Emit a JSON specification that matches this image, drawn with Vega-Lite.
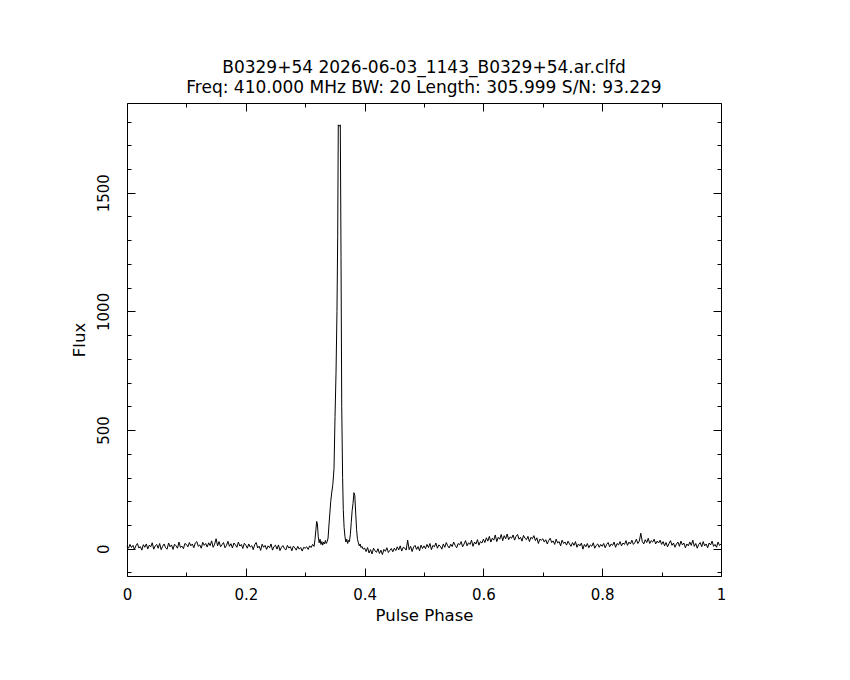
{
  "$schema": "https://vega.github.io/schema/vega-lite/v6.json",
  "width": 594,
  "height": 473,
  "autosize": {"type": "none"},
  "padding": {"left": 127, "top": 103, "right": 129, "bottom": 104},
  "background": "white",
  "title": {
    "text": ["B0329+54 2026-06-03_1143_B0329+54.ar.clfd", "Freq: 410.000 MHz BW: 20 Length: 305.999 S/N: 93.229"],
    "font": "DejaVu Sans",
    "fontSize": 17,
    "fontWeight": "normal",
    "color": "black",
    "lineHeight": 20,
    "anchor": "middle",
    "offset": 6
  },
  "data": {"values": [
{"p":0,"f":10},{"p":0.0025,"f":2},{"p":0.005,"f":18},{"p":0.0075,"f":5},{"p":0.01,"f":14},{"p":0.0125,"f":-3},{"p":0.015,"f":12},{"p":0.0175,"f":22},{"p":0.02,"f":3},{"p":0.0225,"f":9},{"p":0.025,"f":-6},{"p":0.0275,"f":17},{"p":0.03,"f":6},{"p":0.0325,"f":20},{"p":0.035,"f":-1},{"p":0.0375,"f":15},{"p":0.04,"f":8},{"p":0.0425,"f":25},{"p":0.045,"f":-2},{"p":0.0475,"f":12},{"p":0.05,"f":18},{"p":0.0525,"f":2},{"p":0.055,"f":22},{"p":0.0575,"f":-4},{"p":0.06,"f":10},{"p":0.0625,"f":20},{"p":0.065,"f":4},{"p":0.0675,"f":-2},{"p":0.07,"f":24},{"p":0.0725,"f":8},{"p":0.075,"f":16},{"p":0.0775,"f":-3},{"p":0.08,"f":19},{"p":0.0825,"f":12},{"p":0.085,"f":2},{"p":0.0875,"f":28},{"p":0.09,"f":5},{"p":0.0925,"f":11},{"p":0.095,"f":0},{"p":0.0975,"f":22},
{"p":0.1,"f":18},{"p":0.1025,"f":8},{"p":0.105,"f":26},{"p":0.1075,"f":12},{"p":0.11,"f":20},{"p":0.1125,"f":4},{"p":0.115,"f":24},{"p":0.1175,"f":30},{"p":0.12,"f":10},{"p":0.1225,"f":16},{"p":0.125,"f":2},{"p":0.1275,"f":27},{"p":0.13,"f":14},{"p":0.1325,"f":22},{"p":0.135,"f":7},{"p":0.1375,"f":25},{"p":0.14,"f":13},{"p":0.1425,"f":33},{"p":0.145,"f":6},{"p":0.1475,"f":19},{"p":0.15,"f":42},{"p":0.1525,"f":12},{"p":0.155,"f":30},{"p":0.1575,"f":8},{"p":0.16,"f":17},{"p":0.1625,"f":26},{"p":0.165,"f":4},{"p":0.1675,"f":14},{"p":0.17,"f":31},{"p":0.1725,"f":10},{"p":0.175,"f":21},{"p":0.1775,"f":3},{"p":0.18,"f":24},{"p":0.1825,"f":16},{"p":0.185,"f":6},{"p":0.1875,"f":28},{"p":0.19,"f":11},{"p":0.1925,"f":18},{"p":0.195,"f":1},{"p":0.1975,"f":23},
{"p":0.2,"f":15},{"p":0.2025,"f":2},{"p":0.205,"f":20},{"p":0.2075,"f":7},{"p":0.21,"f":13},{"p":0.2125,"f":-4},{"p":0.215,"f":17},{"p":0.2175,"f":26},{"p":0.22,"f":3},{"p":0.2225,"f":11},{"p":0.225,"f":-7},{"p":0.2275,"f":19},{"p":0.23,"f":6},{"p":0.2325,"f":14},{"p":0.235,"f":-3},{"p":0.2375,"f":12},{"p":0.24,"f":4},{"p":0.2425,"f":20},{"p":0.245,"f":-6},{"p":0.2475,"f":9},{"p":0.25,"f":15},{"p":0.2525,"f":-2},{"p":0.255,"f":16},{"p":0.2575,"f":-8},{"p":0.26,"f":6},{"p":0.2625,"f":13},{"p":0.265,"f":0},{"p":0.2675,"f":-5},{"p":0.27,"f":14},{"p":0.2725,"f":3},{"p":0.275,"f":9},{"p":0.2775,"f":-9},{"p":0.28,"f":11},{"p":0.2825,"f":4},{"p":0.285,"f":-6},{"p":0.2875,"f":10},{"p":0.29,"f":-2},{"p":0.2925,"f":5},{"p":0.295,"f":-10},{"p":0.2975,"f":6},
{"p":0.3,"f":2},{"p":0.3025,"f":8},{"p":0.305,"f":-3},{"p":0.3075,"f":12},{"p":0.31,"f":5},{"p":0.3125,"f":18},{"p":0.315,"f":10},{"p":0.3165,"f":40},{"p":0.318,"f":80},{"p":0.3193,"f":115},{"p":0.3205,"f":105},{"p":0.322,"f":50},{"p":0.3235,"f":25},{"p":0.325,"f":40},{"p":0.3265,"f":18},{"p":0.328,"f":30},{"p":0.3295,"f":15},{"p":0.331,"f":28},{"p":0.3325,"f":20},{"p":0.334,"f":35},{"p":0.3355,"f":22},{"p":0.337,"f":30},{"p":0.3385,"f":45},{"p":0.34,"f":100},{"p":0.3415,"f":150},{"p":0.343,"f":200},{"p":0.3446,"f":235},{"p":0.3465,"f":270},{"p":0.3485,"f":337},{"p":0.3502,"f":556},{"p":0.3519,"f":741},{"p":0.3535,"f":1000},{"p":0.3547,"f":1314},{"p":0.3557,"f":1786},{"p":0.3575,"f":1780},{"p":0.3591,"f":1786},{"p":0.3603,"f":1230},{"p":0.3615,"f":600},{"p":0.363,"f":300},{"p":0.3641,"f":165},{"p":0.3655,"f":90},{"p":0.367,"f":50},{"p":0.3685,"f":28},{"p":0.37,"f":40},{"p":0.3715,"f":22},{"p":0.373,"f":35},{"p":0.3745,"f":30},{"p":0.376,"f":60},{"p":0.3775,"f":110},{"p":0.379,"f":160},{"p":0.3805,"f":190},{"p":0.382,"f":236},{"p":0.3835,"f":225},{"p":0.385,"f":150},{"p":0.3865,"f":80},{"p":0.388,"f":40},{"p":0.3895,"f":25},{"p":0.391,"f":12},{"p":0.3925,"f":20},{"p":0.394,"f":5},{"p":0.3955,"f":10},{"p":0.3975,"f":-2},
{"p":0.4,"f":3},{"p":0.4025,"f":-12},{"p":0.405,"f":5},{"p":0.4075,"f":-18},{"p":0.41,"f":-4},{"p":0.4125,"f":-22},{"p":0.415,"f":2},{"p":0.4175,"f":-9},{"p":0.42,"f":-15},{"p":0.4225,"f":0},{"p":0.425,"f":-20},{"p":0.4275,"f":-6},{"p":0.43,"f":-25},{"p":0.4325,"f":-3},{"p":0.435,"f":-11},{"p":0.4375,"f":4},{"p":0.44,"f":-16},{"p":0.4425,"f":-7},{"p":0.445,"f":1},{"p":0.4475,"f":-13},{"p":0.45,"f":2},{"p":0.4525,"f":-8},{"p":0.455,"f":8},{"p":0.4575,"f":-5},{"p":0.46,"f":12},{"p":0.4625,"f":-10},{"p":0.465,"f":6},{"p":0.4675,"f":3},{"p":0.47,"f":-6},{"p":0.4725,"f":36},{"p":0.475,"f":-4},{"p":0.4775,"f":10},{"p":0.48,"f":-12},{"p":0.4825,"f":7},{"p":0.485,"f":14},{"p":0.4875,"f":-3},{"p":0.49,"f":9},{"p":0.4925,"f":-9},{"p":0.495,"f":15},{"p":0.4975,"f":1},
{"p":0.5,"f":12},{"p":0.5025,"f":0},{"p":0.505,"f":18},{"p":0.5075,"f":5},{"p":0.51,"f":22},{"p":0.5125,"f":-4},{"p":0.515,"f":14},{"p":0.5175,"f":8},{"p":0.52,"f":24},{"p":0.5225,"f":2},{"p":0.525,"f":16},{"p":0.5275,"f":10},{"p":0.53,"f":-2},{"p":0.5325,"f":20},{"p":0.535,"f":6},{"p":0.5375,"f":26},{"p":0.54,"f":12},{"p":0.5425,"f":3},{"p":0.545,"f":19},{"p":0.5475,"f":9},{"p":0.55,"f":28},{"p":0.5525,"f":14},{"p":0.555,"f":4},{"p":0.5575,"f":22},{"p":0.56,"f":16},{"p":0.5625,"f":30},{"p":0.565,"f":8},{"p":0.5675,"f":20},{"p":0.57,"f":34},{"p":0.5725,"f":12},{"p":0.575,"f":25},{"p":0.5775,"f":18},{"p":0.58,"f":36},{"p":0.5825,"f":10},{"p":0.585,"f":28},{"p":0.5875,"f":20},{"p":0.59,"f":38},{"p":0.5925,"f":15},{"p":0.595,"f":30},{"p":0.5975,"f":24},
{"p":0.6,"f":40},{"p":0.6025,"f":26},{"p":0.605,"f":46},{"p":0.6075,"f":32},{"p":0.61,"f":52},{"p":0.6125,"f":28},{"p":0.615,"f":44},{"p":0.6175,"f":36},{"p":0.62,"f":58},{"p":0.6225,"f":30},{"p":0.625,"f":48},{"p":0.6275,"f":40},{"p":0.63,"f":60},{"p":0.6325,"f":34},{"p":0.635,"f":55},{"p":0.6375,"f":42},{"p":0.64,"f":62},{"p":0.6425,"f":38},{"p":0.645,"f":50},{"p":0.6475,"f":44},{"p":0.65,"f":58},{"p":0.6525,"f":36},{"p":0.655,"f":52},{"p":0.6575,"f":60},{"p":0.66,"f":40},{"p":0.6625,"f":48},{"p":0.665,"f":32},{"p":0.6675,"f":56},{"p":0.67,"f":44},{"p":0.6725,"f":38},{"p":0.675,"f":52},{"p":0.6775,"f":30},{"p":0.68,"f":48},{"p":0.6825,"f":42},{"p":0.685,"f":55},{"p":0.6875,"f":34},{"p":0.69,"f":46},{"p":0.6925,"f":22},{"p":0.695,"f":40},{"p":0.6975,"f":36},
{"p":0.7,"f":42},{"p":0.7025,"f":28},{"p":0.705,"f":38},{"p":0.7075,"f":20},{"p":0.71,"f":35},{"p":0.7125,"f":44},{"p":0.715,"f":26},{"p":0.7175,"f":33},{"p":0.72,"f":18},{"p":0.7225,"f":40},{"p":0.725,"f":24},{"p":0.7275,"f":30},{"p":0.73,"f":12},{"p":0.7325,"f":36},{"p":0.735,"f":22},{"p":0.7375,"f":28},{"p":0.74,"f":15},{"p":0.7425,"f":32},{"p":0.745,"f":20},{"p":0.7475,"f":10},{"p":0.75,"f":26},{"p":0.7525,"f":14},{"p":0.755,"f":30},{"p":0.7575,"f":6},{"p":0.76,"f":20},{"p":0.7625,"f":12},{"p":0.765,"f":24},{"p":0.7675,"f":-2},{"p":0.77,"f":18},{"p":0.7725,"f":8},{"p":0.775,"f":22},{"p":0.7775,"f":4},{"p":0.78,"f":16},{"p":0.7825,"f":10},{"p":0.785,"f":25},{"p":0.7875,"f":2},{"p":0.79,"f":14},{"p":0.7925,"f":20},{"p":0.795,"f":6},{"p":0.7975,"f":18},
{"p":0.8,"f":10},{"p":0.8025,"f":22},{"p":0.805,"f":4},{"p":0.8075,"f":18},{"p":0.81,"f":26},{"p":0.8125,"f":8},{"p":0.815,"f":20},{"p":0.8175,"f":14},{"p":0.82,"f":28},{"p":0.8225,"f":6},{"p":0.825,"f":22},{"p":0.8275,"f":16},{"p":0.83,"f":30},{"p":0.8325,"f":12},{"p":0.835,"f":24},{"p":0.8375,"f":18},{"p":0.84,"f":34},{"p":0.8425,"f":14},{"p":0.845,"f":28},{"p":0.8475,"f":20},{"p":0.85,"f":36},{"p":0.8525,"f":18},{"p":0.855,"f":26},{"p":0.8575,"f":40},{"p":0.86,"f":22},{"p":0.8625,"f":32},{"p":0.865,"f":65},{"p":0.8675,"f":30},{"p":0.87,"f":20},{"p":0.8725,"f":38},{"p":0.875,"f":26},{"p":0.8775,"f":44},{"p":0.88,"f":22},{"p":0.8825,"f":34},{"p":0.885,"f":28},{"p":0.8875,"f":40},{"p":0.89,"f":20},{"p":0.8925,"f":32},{"p":0.895,"f":24},{"p":0.8975,"f":36},
{"p":0.9,"f":18},{"p":0.9025,"f":30},{"p":0.905,"f":12},{"p":0.9075,"f":26},{"p":0.91,"f":8},{"p":0.9125,"f":22},{"p":0.915,"f":34},{"p":0.9175,"f":14},{"p":0.92,"f":24},{"p":0.9225,"f":6},{"p":0.925,"f":20},{"p":0.9275,"f":28},{"p":0.93,"f":10},{"p":0.9325,"f":32},{"p":0.935,"f":16},{"p":0.9375,"f":24},{"p":0.94,"f":4},{"p":0.9425,"f":20},{"p":0.945,"f":12},{"p":0.9475,"f":28},{"p":0.95,"f":14},{"p":0.9525,"f":36},{"p":0.955,"f":10},{"p":0.9575,"f":22},{"p":0.96,"f":2},{"p":0.9625,"f":18},{"p":0.965,"f":26},{"p":0.9675,"f":8},{"p":0.97,"f":30},{"p":0.9725,"f":12},{"p":0.975,"f":20},{"p":0.9775,"f":4},{"p":0.98,"f":24},{"p":0.9825,"f":16},{"p":0.985,"f":32},{"p":0.9875,"f":10},{"p":0.99,"f":18},{"p":0.9925,"f":6},{"p":0.995,"f":28},{"p":0.9975,"f":14},{"p":1,"f":20}
  ]},
  "resolve": {"scale": {"x": "shared", "y": "shared"}, "axis": {"x": "independent", "y": "independent"}},
  "layer": [
    {
      "mark": {"type": "line", "color": "black", "strokeWidth": 1, "interpolate": "linear"},
      "encoding": {
        "x": {"field": "p", "type": "quantitative", "scale": {"domain": [0, 1], "nice": false, "zero": false},
          "axis": {"orient": "bottom", "values": [0, 0.2, 0.4, 0.6, 0.8, 1], "format": "~g", "ticks": false, "domain": true, "labelPadding": 11, "title": "Pulse Phase", "titleFontSize": 16.5, "titlePadding": 5}},
        "y": {"field": "f", "type": "quantitative", "scale": {"domain": [-115, 1878], "nice": false, "zero": false},
          "axis": {"orient": "left", "values": [0, 500, 1000, 1500], "format": "d", "ticks": false, "domain": true, "labelAngle": -90, "labelAlign": "center", "labelBaseline": "bottom", "labelPadding": 16, "title": "Flux", "titleFontSize": 16.5, "titlePadding": 9}}
      }
    },
    {
      "mark": {"type": "line", "strokeOpacity": 0},
      "encoding": {
        "x": {"field": "p", "type": "quantitative", "axis": {"orient": "bottom", "values": [0, 0.2, 0.4, 0.6, 0.8, 1], "labels": false, "domain": false, "tickSize": -8, "title": null}},
        "y": {"field": "f", "type": "quantitative", "axis": {"orient": "left", "values": [0, 500, 1000, 1500], "labels": false, "domain": false, "tickSize": -8, "title": null}}
      }
    },
    {
      "mark": {"type": "line", "strokeOpacity": 0},
      "encoding": {
        "x": {"field": "p", "type": "quantitative", "axis": {"orient": "bottom", "values": [0.1, 0.3, 0.5, 0.7, 0.9], "labels": false, "domain": false, "tickSize": -4, "title": null}},
        "y": {"field": "f", "type": "quantitative", "axis": {"orient": "left", "values": [-100, 100, 200, 300, 400, 600, 700, 800, 900, 1100, 1200, 1300, 1400, 1600, 1700, 1800], "labels": false, "domain": false, "tickSize": -4, "title": null}}
      }
    },
    {
      "mark": {"type": "line", "strokeOpacity": 0},
      "encoding": {
        "x": {"field": "p", "type": "quantitative", "axis": {"orient": "top", "values": [0, 0.2, 0.4, 0.6, 0.8, 1], "labels": false, "domain": true, "tickSize": -8, "title": null}},
        "y": {"field": "f", "type": "quantitative", "axis": {"orient": "right", "values": [0, 500, 1000, 1500], "labels": false, "domain": true, "tickSize": -8, "title": null}}
      }
    },
    {
      "mark": {"type": "line", "strokeOpacity": 0},
      "encoding": {
        "x": {"field": "p", "type": "quantitative", "axis": {"orient": "top", "values": [0.1, 0.3, 0.5, 0.7, 0.9], "labels": false, "domain": false, "tickSize": -4, "title": null}},
        "y": {"field": "f", "type": "quantitative", "axis": {"orient": "right", "values": [-100, 100, 200, 300, 400, 600, 700, 800, 900, 1100, 1200, 1300, 1400, 1600, 1700, 1800], "labels": false, "domain": false, "tickSize": -4, "title": null}}
      }
    }
  ],
  "config": {
    "view": {"stroke": null},
    "axis": {
      "grid": false,
      "labelFont": "DejaVu Sans",
      "labelFontSize": 15,
      "labelColor": "black",
      "titleFont": "DejaVu Sans",
      "titleFontSize": 15,
      "titleFontWeight": "normal",
      "titleColor": "black",
      "domainColor": "black",
      "domainWidth": 1,
      "tickColor": "black",
      "tickWidth": 1,
      "labelFlush": false,
      "labelOverlap": false
    }
  }
}
